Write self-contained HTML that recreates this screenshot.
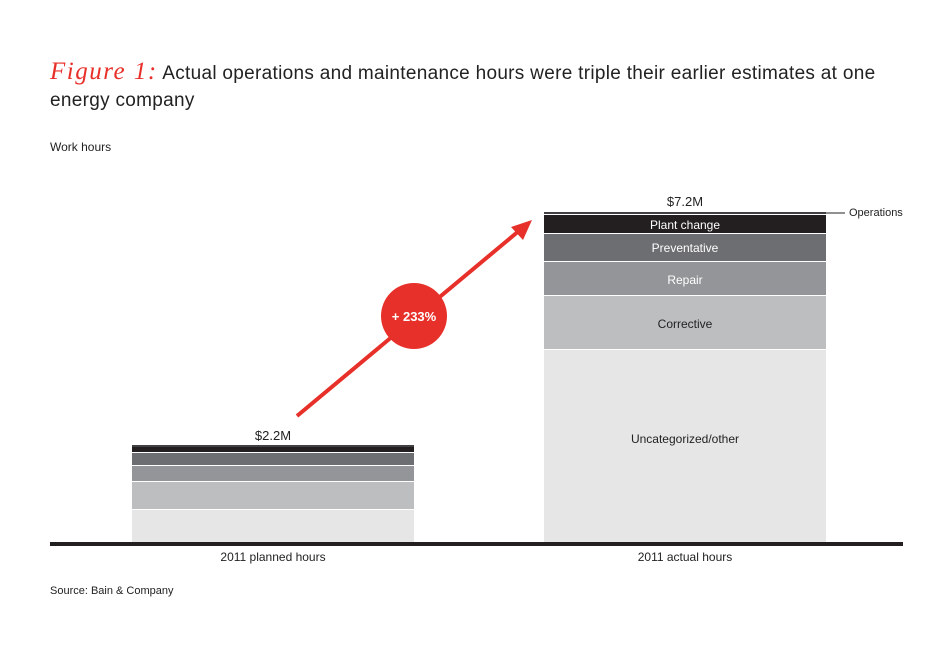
<!DOCTYPE html>
<html><head><meta charset="utf-8"><style>
body{margin:0;background:#fff;}
svg{display:block;font-family:"Liberation Sans",sans-serif;}
</style></head><body>
<svg width="950" height="649" viewBox="0 0 950 649">
<text x="50" y="79" font-size="19" fill="#222" letter-spacing="0.3"><tspan fill="#e8302a" font-family="Liberation Serif" font-style="italic" font-size="25" letter-spacing="1.5">Figure 1:</tspan> Actual operations and maintenance hours were triple their earlier estimates at one</text>
<text x="50" y="106" font-size="19" fill="#222" letter-spacing="0.3">energy company</text>
<text x="50" y="151" font-size="12" fill="#222">Work hours</text>
<!-- left bar -->
<rect x="132" y="445" width="282" height="2" fill="#414042"/>
<rect x="132" y="447" width="282" height="5" fill="#231f20"/>
<rect x="132" y="453" width="282" height="12" fill="#6d6e71"/>
<rect x="132" y="466" width="282" height="15" fill="#939598"/>
<rect x="132" y="482" width="282" height="27" fill="#bcbec0"/>
<rect x="132" y="510" width="282" height="33" fill="#e6e6e6"/>
<text x="273" y="440" font-size="13" fill="#222" text-anchor="middle">$2.2M</text>
<!-- right bar -->
<rect x="544" y="212" width="282" height="2" fill="#414042"/>
<rect x="544" y="215" width="282" height="18" fill="#231f20"/>
<rect x="544" y="234" width="282" height="27" fill="#6d6e71"/>
<rect x="544" y="262" width="282" height="33" fill="#939598"/>
<rect x="544" y="296" width="282" height="53" fill="#bcbec0"/>
<rect x="544" y="350" width="282" height="193" fill="#e6e6e6"/>
<text x="685" y="206" font-size="13" fill="#222" text-anchor="middle">$7.2M</text>
<text x="685" y="229" font-size="12" fill="#fff" text-anchor="middle">Plant change</text>
<text x="685" y="252" font-size="12" fill="#fff" text-anchor="middle">Preventative</text>
<text x="685" y="284" font-size="12" fill="#fff" text-anchor="middle">Repair</text>
<text x="685" y="328" font-size="12" fill="#222" text-anchor="middle">Corrective</text>
<text x="685" y="443" font-size="12" fill="#222" text-anchor="middle">Uncategorized/other</text>
<line x1="826" y1="213" x2="845" y2="213" stroke="#222" stroke-width="1"/>
<text x="849" y="216" font-size="11" fill="#222">Operations</text>
<!-- axis -->
<rect x="50" y="542" width="853" height="4" fill="#231f20"/>
<text x="273" y="561" font-size="12" fill="#222" text-anchor="middle">2011 planned hours</text>
<text x="685" y="561" font-size="12" fill="#222" text-anchor="middle">2011 actual hours</text>
<text x="50" y="594" font-size="11" fill="#222">Source: Bain &amp; Company</text>
<!-- arrow -->
<line x1="297" y1="416" x2="520" y2="230" stroke="#e8302a" stroke-width="4"/>
<polygon points="532,220 511,227 523,240" fill="#e8302a"/>
<circle cx="414" cy="316" r="33" fill="#e8302a"/>
<text x="414" y="321" font-size="13" font-weight="bold" fill="#fff" text-anchor="middle">+ 233%</text>
</svg>
</body></html>
